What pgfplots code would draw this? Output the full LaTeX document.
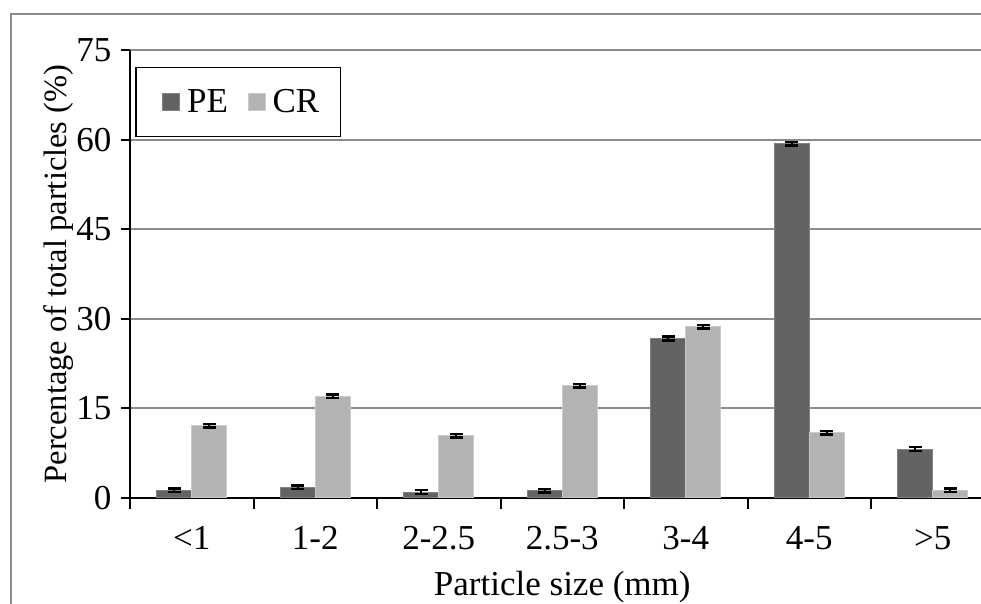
\documentclass[border=0pt]{standalone}
\usepackage{pgfplots}
\pgfplotsset{compat=1.18}
\usepackage{fontspec}
\setmainfont{Liberation Serif}
\definecolor{pe}{RGB}{99,99,99}
\definecolor{cr}{RGB}{179,179,179}
\definecolor{gridc}{RGB}{140,140,140}
\begin{document}
\begin{tikzpicture}[x=1bp,y=1bp]
\useasboundingbox (0,0) rectangle (981,604);
\clip (0,0) rectangle (981,604);
\draw[gridc, line width=2bp] (10.7,0) -- (10.7,589.5) -- (985,589.5);
\begin{axis}[
  at={(130bp,106bp)}, anchor=south west,
  scale only axis, width=864.5bp, height=448bp,
  xmin=-0.5, xmax=6.5, ymin=0, ymax=75,
  ybar=0pt, bar width=35bp,
  axis x line*=bottom, axis y line*=left,
  axis line style={black, line width=2bp},
  xtick={0,...,6},
  xticklabels={{<1},{1-2},{2-2.5},{2.5-3},{3-4},{4-5},{>5}},
  minor xtick={-0.5,0.5,...,6.5},
  ytick={0,15,...,75},
  tick align=outside,
  major x tick style={draw=none},
  minor x tick style={black, line width=2bp},
  minor tick length=11bp,
  major y tick style={black, line width=2bp},
  major tick length=9bp,
  ymajorgrids, grid style={gridc, line width=2bp},
  /pgf/number format/assume math mode=true,
  tick label style={font=\fontsize{35bp}{42bp}\selectfont},
  xticklabel style={yshift=-16bp},
  yticklabel style={xshift=-6bp},
  label style={font=\fontsize{35bp}{42bp}\selectfont},
  xlabel={Particle size (mm)},
  xlabel style={yshift=-14bp},
  ylabel={Percentage of total particles (\%)},
  ylabel style={font=\fontsize{32.5bp}{40bp}\selectfont, yshift=-4bp},
  legend columns=2,
  legend style={at={(0,1)}, anchor=north west, xshift=5bp, yshift=-17bp,
    draw=black, line width=1.5bp, fill=white,
    font=\fontsize{35bp}{42bp}\selectfont,
    inner xsep=19bp, inner ysep=20bp,
    /tikz/every odd column/.append style={column sep=5bp},
    /tikz/every even column/.append style={column sep=10bp}},
  legend image code/.code={\path[draw=none,fill=none] (-8bp,-0.05bp) rectangle (17bp,0.05bp); \fill[#1] (0bp,-8bp) rectangle (17bp,9bp);},
  error bars/y dir=both, error bars/y explicit,
  error bars/error bar style={black, line width=2bp},
  error bars/error mark options={black, line width=2.5bp, mark size=6.5bp, rotate=90},
]
\addplot[fill=pe, draw=pe!80!white, line width=1bp] coordinates {
  (0,1.3) +- (0,0.3)
  (1,1.8) +- (0,0.3)
  (2,1.0) +- (0,0.3)
  (3,1.2) +- (0,0.3)
  (4,26.7) +- (0,0.3)
  (5,59.3) +- (0,0.3)
  (6,8.2) +- (0,0.3)
};
\addplot[fill=cr, draw=cr!70!white, line width=1bp] coordinates {
  (0,12.1) +- (0,0.3)
  (1,17.0) +- (0,0.3)
  (2,10.4) +- (0,0.3)
  (3,18.8) +- (0,0.3)
  (4,28.7) +- (0,0.3)
  (5,10.9) +- (0,0.3)
  (6,1.3) +- (0,0.3)
};
\legend{PE,CR}
\end{axis}
\end{tikzpicture}
\end{document}
